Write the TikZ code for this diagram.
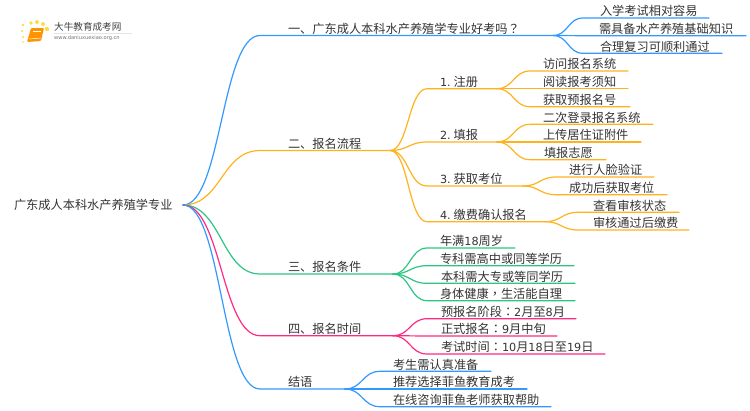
\documentclass[tikz,border=0pt]{standalone}
\usepackage{fontspec}
\usetikzlibrary{calc}
\setmainfont{Noto Sans CJK SC}
\newfontfamily\latf{DejaVu Sans}
\newfontfamily\puncf{Noto Sans CJK TC}
\newcommand\dg[1]{{\latf\fontsize{11.2}{14}\selectfont #1}}
\definecolor{cblue}{HTML}{3399FF}
\definecolor{corange}{HTML}{FFB21E}
\definecolor{cgreen}{HTML}{2EC584}
\definecolor{cpink}{HTML}{FF2A80}
\definecolor{ctext}{HTML}{333333}
\tikzset{
  bnode/.style={inner sep=0pt,outer sep=0pt,align=left,text=ctext,text height=10.5pt,text depth=2.2pt,
    font=\fontsize{12.2}{14}\selectfont},
  link/.style={line width=1.2pt,line cap=round},
}
% name parent colour xcurve xtext xend ybase text
\newcommand\branch[8]{%
  \pgfmathsetmacro\bw{#6-#4}\pgfmathsetmacro\bi{#5-#4}%
  \node[bnode,anchor=south west,text width=\bw pt] (#1) at (#4,#7) {\hspace*{\bi pt}#8};
  \draw[link,#3] let \p1=(#2),\p2=(#1.south west) in
    (\p1) .. controls ({0.5*\x1+0.5*\x2},\y1) and ({0.5*\x1+0.5*\x2},\y2) .. (\p2) -- (#1.south east);
}
\begin{document}
\begin{tikzpicture}[x=1pt,y=-1pt]
\useasboundingbox (0,0) rectangle (750,410);
% logo
\foreach \a/\b/\r in {23/25/1.3,31/23/1.9,37/22/2,43/24/2,47/29/2.2,22/31/1.2,23/37/1.1,23/42/.9}
  \fill[yellow!70!orange,opacity=.75] (\a,\b) circle (\r);
\fill[orange!85!yellow,rounded corners=1pt] (31,28) -- (44,28) -- (41,41) -- (27,42) -- cycle;
\draw[white,line width=.5pt] (29,39) -- (41,38);
\draw[white,line width=.4pt] (33,31) -- (41,31);
\node[inner sep=0pt,anchor=west,text=black!75,font=\fontsize{9.6}{11}\selectfont] (logotext) at (54,27) {大牛教育成考网};
\node[inner sep=0pt,anchor=west,text=black!55,font=\latf\fontsize{5.1}{6}\selectfont] (logourl) at (54,38.5) {www.daniuxuexiao.org.cn};
\draw[black!10,line width=.5pt] (54,33) -- (132,33);
% root
\node[bnode,anchor=east,text width=169pt] (root) at (183,205) {广东成人本科水产养殖学专业};
% level 1
\branch{a}{root.east}{cblue}{260}{288}{553}{35.5}{一、广东成人本科水产养殖学专业好考吗{\puncf ？}}
\branch{b}{root.east}{corange}{260}{288}{390}{150.5}{二、报名流程}
\branch{c}{root.east}{cgreen}{260}{288}{393}{274}{三、报名条件}
\branch{d}{root.east}{cpink}{260}{288}{393}{335.7}{四、报名时间}
\branch{e}{root.east}{cblue}{260}{288}{345}{389}{结语}
% a
\branch{a1}{a.south east}{cblue}{583}{600}{709}{18}{入学考试相对容易}
\branch{a2}{a.south east}{cblue}{583}{599}{746}{35.7}{需具备水产养殖基础知识}
\branch{a3}{a.south east}{cblue}{583}{600}{722}{53.3}{合理复习可顺利通过}
% b
\branch{b1}{b.south east}{corange}{427}{440}{497}{88.7}{\dg{1.}\kern3pt 注册}
\branch{b2}{b.south east}{corange}{427}{440}{497}{142}{\dg{2.}\kern3pt 填报}
\branch{b3}{b.south east}{corange}{427}{440}{523}{186}{\dg{3.}\kern3pt 获取考位}
\branch{b4}{b.south east}{corange}{427}{440}{545}{221.7}{\dg{4.}\kern3pt 缴费确认报名}
\branch{b11}{b1.south east}{corange}{530}{543}{628}{71}{访问报名系统}
\branch{b12}{b1.south east}{corange}{530}{543}{628}{88.7}{阅读报考须知}
\branch{b13}{b1.south east}{corange}{530}{543}{630}{106.7}{获取预报名号}
\branch{b21}{b2.south east}{corange}{530}{543}{653}{124.3}{二次登录报名系统}
\branch{b22}{b2.south east}{corange}{530}{543}{641}{142}{上传居住证附件}
\branch{b23}{b2.south east}{corange}{530}{544}{606}{159.7}{填报志愿}
\branch{b31}{b3.south east}{corange}{556}{569}{654}{177}{进行人脸验证}
\branch{b32}{b3.south east}{corange}{556}{569}{667}{194.7}{成功后获取考位}
\branch{b41}{b4.south east}{corange}{578}{593}{679}{212.3}{查看审核状态}
\branch{b42}{b4.south east}{corange}{578}{593}{689}{230}{审核通过后缴费}
% c
\branch{c1}{c.south east}{cgreen}{427}{440}{515}{248}{年满\dg{18}周岁}
\branch{c2}{c.south east}{cgreen}{427}{440}{574}{265.7}{专科需高中或同等学历}
\branch{c3}{c.south east}{cgreen}{427}{441}{575}{283.3}{本科需大专或等同学历}
\branch{c4}{c.south east}{cgreen}{427}{440}{575}{300.7}{身体健康{\puncf ，}生活能自理}
% d
\branch{d1}{d.south east}{cpink}{427}{441}{576}{318.7}{预报名阶段{\puncf ：}\dg{2}月至\dg{8}月}
\branch{d2}{d.south east}{cpink}{427}{441}{557}{336}{正式报名{\puncf ：}\dg{9}月中旬}
\branch{d3}{d.south east}{cpink}{427}{441}{605}{354}{考试时间{\puncf ：}\dg{10}月\dg{18}日至\dg{19}日}
% e
\branch{e1}{e.south east}{cblue}{380}{393}{491}{371.3}{考生需认真准备}
\branch{e2}{e.south east}{cblue}{380}{393}{527}{389}{推荐选择菲鱼教育成考}
\branch{e3}{e.south east}{cblue}{380}{393}{551}{406.7}{在线咨询菲鱼老师获取帮助}
\end{tikzpicture}
\end{document}
